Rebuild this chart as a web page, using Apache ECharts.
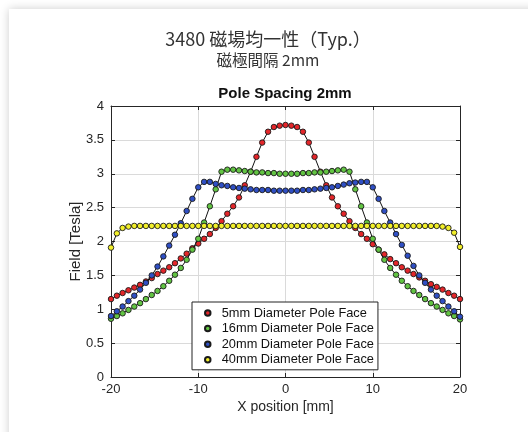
<!DOCTYPE html>
<html>
<head>
<meta charset="utf-8">
<script src="https://cdn.jsdelivr.net/npm/echarts@6/dist/echarts.min.js"></script>
<style>
  html, body { margin: 0; padding: 0; background: #fff; width: 528px; height: 432px; overflow: hidden; }
  #card { position: absolute; left: 9px; top: 9px; width: 620px; height: 520px; background: #fff; box-shadow: 0 0 9px rgba(0,0,0,0.2); }
  #chart { position: absolute; left: 0; top: 0; width: 528px; height: 432px; }
</style>
</head>
<body>
<div id="card"></div>
<div id="chart"></div>
<script>
// ---- data ----
const mainTitle = '3480 磁場均一性（Typ.）';
const subTitle = '磁極間隔 2mm';
const plotTitle = 'Pole Spacing 2mm';
const xName = 'X position [mm]';
const yName = 'Field [Tesla]';
const seriesNames = ['5mm Diameter Pole Face', '16mm Diameter Pole Face', '20mm Diameter Pole Face', '40mm Diameter Pole Face'];
const seriesColors = ['#e3262a', '#62c443', '#2f4fc4', '#f2ef2a'];

const xPos = [-20, -19.33, -18.67, -18, -17.33, -16.67, -16, -15.33, -14.67, -14,
  -13.33, -12.67, -12, -11.33, -10.67, -10, -9.33, -8.67, -8, -7.33,
  -6.67, -6, -5.33, -4.67, -4, -3.33, -2.67, -2, -1.33, -0.67,
  0, 0.67, 1.33, 2, 2.67, 3.33, 4, 4.67, 5.33, 6,
  6.67, 7.33, 8, 8.67, 9.33, 10, 10.67, 11.33, 12, 12.67,
  13.33, 14, 14.67, 15.33, 16, 16.67, 17.33, 18, 18.67, 19.33, 20];

const field5mm = [1.15, 1.20, 1.24, 1.28, 1.32, 1.36, 1.41, 1.46, 1.52, 1.57,
  1.62, 1.68, 1.75, 1.82, 1.90, 1.97, 2.04, 2.11, 2.20, 2.30,
  2.41, 2.52, 2.65, 2.83, 3.03, 3.25, 3.46, 3.62, 3.69, 3.71,
  3.72, 3.71, 3.69, 3.62, 3.46, 3.25, 3.03, 2.83, 2.65, 2.52,
  2.41, 2.30, 2.20, 2.11, 2.04, 1.96, 1.88, 1.81, 1.74, 1.68,
  1.62, 1.57, 1.52, 1.47, 1.42, 1.37, 1.33, 1.29, 1.24, 1.20, 1.15];

const field16mm = [0.86, 0.90, 0.94, 0.99, 1.04, 1.09, 1.15, 1.21, 1.27, 1.34,
  1.42, 1.51, 1.61, 1.73, 1.88, 2.04, 2.28, 2.52, 2.77, 3.03,
  3.06, 3.06, 3.05, 3.04, 3.03, 3.02, 3.02, 3.01, 3.01, 3.00,
  3.00, 3.00, 3.00, 3.01, 3.01, 3.02, 3.02, 3.03, 3.04, 3.05,
  3.06, 3.03, 2.77, 2.52, 2.28, 2.04, 1.88, 1.73, 1.61, 1.51,
  1.42, 1.34, 1.27, 1.21, 1.15, 1.09, 1.04, 0.99, 0.94, 0.90, 0.85];

const field20mm = [0.90, 0.97, 1.04, 1.12, 1.20, 1.29, 1.39, 1.50, 1.63, 1.78,
  1.94, 2.10, 2.27, 2.45, 2.63, 2.80, 2.88, 2.88, 2.85, 2.83,
  2.82, 2.80, 2.79, 2.78, 2.77, 2.76, 2.76, 2.76, 2.75, 2.75,
  2.75, 2.75, 2.75, 2.76, 2.76, 2.77, 2.78, 2.79, 2.80, 2.82,
  2.84, 2.86, 2.87, 2.88, 2.88, 2.80, 2.63, 2.45, 2.28, 2.11,
  1.95, 1.79, 1.64, 1.50, 1.39, 1.29, 1.20, 1.12, 1.04, 0.97, 0.89];

const field40mm = [1.91, 2.12, 2.20, 2.22, 2.23, 2.23, 2.23, 2.23, 2.23, 2.23,
  2.23, 2.23, 2.23, 2.23, 2.23, 2.23, 2.23, 2.23, 2.23, 2.23,
  2.23, 2.23, 2.23, 2.23, 2.23, 2.23, 2.23, 2.23, 2.23, 2.23,
  2.23, 2.23, 2.23, 2.23, 2.23, 2.23, 2.23, 2.23, 2.23, 2.23,
  2.23, 2.23, 2.23, 2.23, 2.23, 2.23, 2.23, 2.23, 2.23, 2.23,
  2.23, 2.23, 2.23, 2.23, 2.23, 2.23, 2.23, 2.22, 2.20, 2.13, 1.92];

const allFields = [field5mm, field16mm, field20mm, field40mm];

// ---- chart ----
const chart = echarts.init(document.getElementById('chart'), null, { renderer: 'canvas' });
const axisFont = 'Liberation Sans, Arial, Helvetica, sans-serif';
const ink = '#262626';

const series = seriesNames.map((name, k) => ({
  name: name,
  type: 'line',
  data: xPos.map((x, i) => [x, allFields[k][i]]),
  symbol: 'circle',
  symbolSize: 5.5,
  showSymbol: true,
  lineStyle: { color: '#111', width: 1 },
  itemStyle: { color: seriesColors[k], borderColor: '#1a1a1a', borderWidth: 0.9 },
  emphasis: { disabled: true },
  z: 2 + k
}));

const option = {
  animation: false,
  backgroundColor: 'transparent',
  graphic: [
    { type: 'text', x: 268, y: 39, style: { text: mainTitle, fill: '#333', font: '18px "Noto Sans CJK JP", "Noto Sans", sans-serif', align: 'center', verticalAlign: 'middle' } },
    { type: 'text', x: 268, y: 60, style: { text: subTitle, fill: '#333', font: '15.5px "Noto Sans CJK JP", "Noto Sans", sans-serif', align: 'center', verticalAlign: 'middle' } },
    { type: 'text', x: 285, y: 94, style: { text: plotTitle, fill: '#111', font: 'bold 15px ' + axisFont, align: 'center', verticalAlign: 'middle' } }
  ],
  grid: { left: 111, right: 68, top: 106, bottom: 55, containLabel: false },
  legend: {
    data: seriesNames,
    orient: 'vertical',
    left: 192,
    top: 302,
    icon: 'circle',
    itemWidth: 8,
    itemHeight: 5.5,
    itemGap: 1.6,
    padding: [4, 4, 3, 12],
    backgroundColor: '#fff',
    borderColor: '#222',
    borderWidth: 1,
    borderRadius: 0,
    selectedMode: false,
    textStyle: { fontFamily: axisFont, fontSize: 12.8, color: '#111', lineHeight: 14, padding: [0, 0, 0, 5] }
  },
  xAxis: [
    {
      type: 'value', min: -20, max: 20, interval: 10,
      name: xName, nameLocation: 'middle', nameGap: 23, nameMoveOverlap: false,
      nameTextStyle: { fontFamily: axisFont, fontSize: 14, color: ink },
      axisLine: { show: true, onZero: false, lineStyle: { color: ink, width: 1 } },
      axisTick: { show: true, inside: true, length: 4, lineStyle: { color: ink } },
      axisLabel: { fontFamily: axisFont, fontSize: 13, color: ink, margin: 6 },
      splitLine: { show: true, lineStyle: { color: '#dadada', width: 1 } }
    },
    {
      type: 'value', min: -20, max: 20, interval: 10, position: 'top',
      axisLine: { show: true, onZero: false, lineStyle: { color: ink, width: 1 } },
      axisTick: { show: true, inside: true, length: 4, lineStyle: { color: ink } },
      axisLabel: { show: false },
      splitLine: { show: false }
    }
  ],
  yAxis: [
    {
      type: 'value', min: 0, max: 4, interval: 0.5,
      name: yName, nameLocation: 'middle', nameGap: 28, nameRotate: 90, nameMoveOverlap: false,
      nameTextStyle: { fontFamily: axisFont, fontSize: 15, color: ink },
      axisLine: { show: true, onZero: false, lineStyle: { color: ink, width: 1 } },
      axisTick: { show: true, inside: true, length: 4, lineStyle: { color: ink } },
      axisLabel: { fontFamily: axisFont, fontSize: 13, color: ink, margin: 7 },
      splitLine: { show: true, lineStyle: { color: '#dadada', width: 1 } }
    },
    {
      type: 'value', min: 0, max: 4, interval: 0.5, position: 'right',
      axisLine: { show: true, onZero: false, lineStyle: { color: ink, width: 1 } },
      axisTick: { show: true, inside: true, length: 4, lineStyle: { color: ink } },
      axisLabel: { show: false },
      splitLine: { show: false }
    }
  ],
  series: series
};
chart.setOption(option);
</script>
</body>
</html>
